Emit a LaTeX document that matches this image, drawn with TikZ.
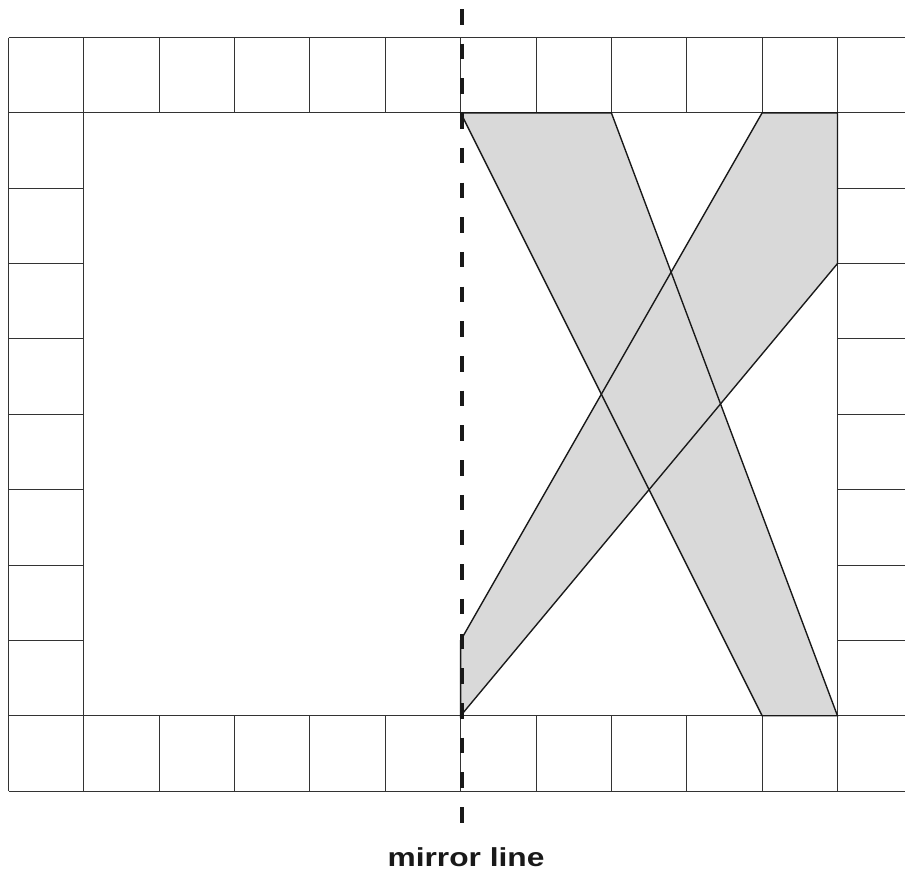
\documentclass[tikz,border=0pt]{standalone}
\usepackage{fontspec}
\setmainfont{Liberation Sans}
\begin{document}
\begin{tikzpicture}[x=1pt,y=-1pt,
  gridline/.style={draw=black!80, line width=0.9pt},
  shapefill/.style={fill=black!15},
  shapeline/.style={draw=black!90, line width=1.4pt, line join=miter},
  mirror/.style={draw=black!90, line width=4pt, dash pattern=on 15.5pt off 19.2pt},
  labeltext/.style={font=\fontsize{26}{30}\selectfont\bfseries, text=black!90, inner sep=0pt, xscale=1.22}]
\useasboundingbox (0,0) rectangle (905,871);
\def\cx#1{(8.5+75.36*#1)}
\def\cy#1{(37.5+75.36*#1)}
% named grid coordinates
\foreach \i in {0,...,11}{\foreach \j in {0,...,10}{\coordinate (g\i-\j) at ({8.5+75.36*\i},{37.5+75.36*\j});}}
\coordinate (r0) at (905,37.5);
% top and bottom rows
\foreach \j in {0,1,9,10}{\draw[gridline] (g0-\j) -- (905,{37.5+75.36*\j});}
\foreach \i in {0,...,11}{\draw[gridline] (g\i-0) -- (g\i-1); \draw[gridline] (g\i-9) -- (g\i-10);}
% left column
\draw[gridline] (g0-1) -- (g0-9);
\draw[gridline] (g1-1) -- (g1-9);
\foreach \j in {2,...,8}{\draw[gridline] (g0-\j) -- (g1-\j);}
% right column
\draw[gridline] (g11-1) -- (g11-9);
\foreach \j in {2,...,8}{\draw[gridline] (g11-\j) -- (905,{37.5+75.36*\j});}
% shapes
\fill[shapefill] (g6-1) -- (g8-1) -- (g11-9) -- (g10-9) -- cycle;
\fill[shapefill] (g6-8) -- (g10-1) -- (g11-1) -- (g11-3) -- (g6-9) -- cycle;
\draw[shapeline] (g6-1) -- (g8-1) -- (g11-9) -- (g10-9) -- cycle;
\draw[shapeline] (g6-8) -- (g10-1) -- (g11-1) -- (g11-3) -- (g6-9) -- cycle;
% mirror line
\coordinate (mtop) at (461.5,9);
\coordinate (mbot) at (461.5,822.5);
\draw[mirror] (mtop) -- (mbot);
\node[labeltext, anchor=base] (lbl) at (466,866.7) {mirror line};
\end{tikzpicture}
\end{document}
